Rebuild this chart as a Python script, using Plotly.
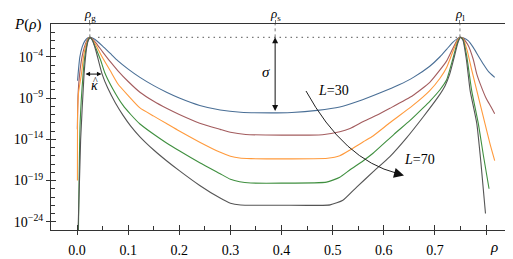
import numpy as np
import plotly.graph_objects as go

# ---------------- data (log10 P values) ----------------
rho_L30 = [0.001, 0.002, 0.0053, 0.01, 0.015, 0.02, 0.025, 0.032, 0.04, 0.05, 0.065, 0.08, 0.10, 0.123,
           0.15, 0.175, 0.20, 0.24, 0.28, 0.32, 0.38, 0.42, 0.47, 0.514, 0.55, 0.592, 0.63, 0.658, 0.69,
           0.71, 0.723, 0.735, 0.744, 0.749, 0.755, 0.765, 0.775, 0.785, 0.795, 0.805, 0.817]
lgP_L30 = [-6.9, -6.1, -4.07, -2.8, -2.1, -1.75, -1.65, -1.8, -2.15, -2.7, -3.6, -4.5, -5.5, -6.5,
           -7.5, -8.3, -9.0, -9.9, -10.45, -10.73, -10.8, -10.75, -10.5, -10.1, -9.4, -8.4, -7.4, -6.5, -5.15,
           -4.0, -3.1, -2.25, -1.8, -1.65, -1.7, -2.05, -2.86, -3.9, -4.9, -5.8, -6.5]

rho_L40 = [0.0005, 0.002, 0.005, 0.0095, 0.014, 0.019, 0.022, 0.025, 0.03, 0.038, 0.05, 0.065, 0.08, 0.10,
           0.123, 0.15, 0.175, 0.20, 0.24, 0.28, 0.30, 0.33, 0.40, 0.48, 0.514, 0.534, 0.56, 0.592, 0.612,
           0.657, 0.69, 0.71, 0.723, 0.735, 0.744, 0.749, 0.755, 0.765, 0.775, 0.782, 0.79, 0.80, 0.81, 0.817]
lgP_L40 = [-12.8, -8.5, -6.1, -4.07, -2.9, -2.05, -1.75, -1.65, -1.85, -2.4, -3.4, -4.6, -5.7, -7.0,
           -8.3, -9.4, -10.25, -11.0, -12.05, -12.8, -13.15, -13.42, -13.5, -13.45, -13.1, -12.7, -11.85, -10.9, -10.25,
           -8.7, -7.1, -5.6, -4.5, -3.0, -1.95, -1.65, -1.75, -2.6, -4.3, -6.1, -7.5, -9.0, -10.1, -10.9]

rho_L50 = [0.0007, 0.0012, 0.003, 0.0085, 0.0125, 0.016, 0.02, 0.023, 0.025, 0.03, 0.037, 0.048, 0.065, 0.08,
           0.10, 0.123, 0.15, 0.175, 0.20, 0.24, 0.279, 0.30, 0.318, 0.34, 0.40, 0.49, 0.514, 0.534, 0.56, 0.579,
           0.612, 0.657, 0.69, 0.71, 0.723, 0.735, 0.744, 0.749, 0.755, 0.763, 0.772, 0.782, 0.79, 0.798,
           0.808, 0.817]
lgP_L50 = [-19.0, -10.6, -8.3, -6.1, -4.07, -2.9, -2.1, -1.75, -1.65, -1.9, -2.6, -3.9, -5.7, -7.3,
           -8.7, -10.2, -11.2, -12.1, -13.0, -14.35, -15.55, -16.05, -16.28, -16.35, -16.38, -16.3, -16.0, -15.3, -14.3, -13.6,
           -12.0, -9.9, -8.1, -6.6, -5.3, -3.4, -2.05, -1.65, -1.8, -3.2, -5.6, -8.1, -10.1, -12.1,
           -14.6, -16.6]

rho_L60 = [0.0025, 0.006, 0.0118, 0.015, 0.018, 0.021, 0.024, 0.0255, 0.03, 0.037, 0.046, 0.054, 0.07, 0.09,
           0.105, 0.123, 0.15, 0.175, 0.20, 0.24, 0.279, 0.30, 0.318, 0.34, 0.40, 0.488, 0.514, 0.534, 0.56, 0.579,
           0.62, 0.651, 0.677, 0.69, 0.71, 0.723, 0.735, 0.744, 0.75, 0.755, 0.762, 0.772, 0.785, 0.795, 0.806]
lgP_L60 = [-26.0, -12.0, -6.1, -4.07, -2.9, -2.1, -1.72, -1.65, -2.0, -3.0, -4.4, -5.9, -7.9, -9.9,
           -11.0, -12.15, -13.4, -14.45, -15.4, -16.85, -18.15, -18.85, -19.15, -19.3, -19.32, -19.2, -18.6, -17.7, -16.6, -15.7,
           -13.4, -11.75, -10.2, -9.4, -8.0, -6.8, -4.3, -2.3, -1.65, -1.9, -3.8, -8.1, -12.1, -16.0, -20.0]

rho_L70 = [0.0015, 0.007, 0.0137, 0.0165, 0.019, 0.022, 0.025, 0.026, 0.03, 0.037, 0.049, 0.06, 0.075, 0.09,
           0.105, 0.123, 0.15, 0.175, 0.20, 0.24, 0.279, 0.30, 0.32, 0.35, 0.40, 0.495, 0.52, 0.547, 0.58, 0.612,
           0.645, 0.677, 0.706, 0.72, 0.729, 0.738, 0.745, 0.75, 0.755, 0.762, 0.769, 0.782, 0.79, 0.799]
lgP_L70 = [-26.0, -14.0, -6.1, -4.07, -2.8, -2.0, -1.7, -1.65, -2.0, -3.3, -6.1, -7.8, -9.6, -11.1,
           -12.4, -13.7, -15.3, -16.6, -17.8, -19.6, -21.1, -21.75, -21.97, -22.0, -22.0, -21.95, -21.4, -19.8, -17.9, -16.1,
           -13.8, -11.3, -8.9, -7.5, -6.1, -4.0, -2.3, -1.65, -2.0, -4.5, -8.1, -12.1, -16.8, -23.0]

series_names = ["L=30", "L=40", "L=50", "L=60", "L=70"]
series_rho = [rho_L30, rho_L40, rho_L50, rho_L60, rho_L70]
series_lgP = [lgP_L30, lgP_L40, lgP_L50, lgP_L60, lgP_L70]
series_colors = ["#4a6f96", "#a35c5e", "#ff9a3c", "#3f8f3f", "#555555"]

rho_marks = [0.025, 0.3875, 0.749]
rho_mark_text = ["<i>ρ</i><sub>g</sub>", "<i>ρ</i><sub>s</sub>", "<i>ρ</i><sub>l</sub>"]
peak_lg = -1.65
sigma_bottom_lg = -10.75
dotted_from = 0.041

x_ticks = [0.0, 0.1, 0.2, 0.3, 0.4, 0.5, 0.6, 0.7, 0.8]
x_ticktext = ["0.0", "0.1", "0.2", "0.3", "0.4", "0.5", "0.6", "0.7", ""]
x_minor = [0.05, 0.15, 0.25, 0.35, 0.45, 0.55, 0.65, 0.75]
y_major_exp = [-4, -9, -14, -19, -24]
y_minor_exp = [e for e in range(-25, 1) if e not in y_major_exp]

X_RANGE = [-0.051, 0.845]
Y_RANGE = [-25.0, -0.03]

# ---------------- figure ----------------
# the page body has an 8px margin, so the figure is made 8px smaller and everything is offset
OFF = 8
W, H = 513 - OFF, 259 - OFF
ML, MR, MT, MB = 51 - OFF, 4, 24 - OFF, 29
FONT = "Liberation Serif"
FRAME = "#333333"

fig = go.Figure()
for name, r, lg, c in zip(series_names, series_rho, series_lgP, series_colors):
    fig.add_trace(go.Scatter(x=r, y=10.0 ** np.array(lg), mode="lines", name=name,
                             line=dict(color=c, width=1.1, shape="spline", smoothing=0.5),
                             showlegend=False, hoverinfo="skip"))

# dashed vertical guides from the top to the peak level
for xm in rho_marks:
    fig.add_trace(go.Scatter(x=[xm, xm], y=[10 ** peak_lg, 10 ** Y_RANGE[1]], mode="lines",
                             line=dict(color="#777777", width=1, dash="3px,3px"),
                             showlegend=False, hoverinfo="skip"))
# dotted horizontal line at peak height
fig.add_trace(go.Scatter(x=[dotted_from, rho_marks[2]], y=[10 ** peak_lg, 10 ** peak_lg], mode="lines",
                         line=dict(color="#777777", width=1.2, dash="1.5px,4px"),
                         showlegend=False, hoverinfo="skip"))

def px2paper(px, py):
    """page pixel position (as in the reference) -> paper fraction"""
    return (px - OFF - ML) / (W - ML - MR), (H - MB - (py - OFF)) / (H - MT - MB)

# curved arrow L=30 -> L=70
s = px2paper(306, 91)
c = px2paper(344, 160)
e = px2paper(397, 173.3)
fig.add_shape(type="path", xref="paper", yref="paper",
              path=f"M {s[0]},{s[1]} Q {c[0]},{c[1]} {e[0]},{e[1]}",
              line=dict(color="#222222", width=1))
tip = px2paper(404, 175.5)

def ptext(px, py, text, size=14):
    x, y = px2paper(px, py)
    return dict(x=x, y=y, xref="paper", yref="paper", text=text, showarrow=False,
                xanchor="center", yanchor="middle", font=dict(family=FONT, size=size, color="black"))

annotations = [
    # sigma arrow
    dict(x=rho_marks[1], y=peak_lg, ax=rho_marks[1], ay=sigma_bottom_lg, xref="x", yref="y",
         axref="x", ayref="y", showarrow=True, arrowside="end+start", arrowhead=2, arrowsize=1.2,
         arrowwidth=1, arrowcolor="#111111", text=""),
    dict(x=0.3687, y=-5.8, xref="x", yref="y", text="<i>σ</i>", showarrow=False,
         xanchor="center", yanchor="middle", font=dict(family=FONT, size=15, color="black")),
    # kappa arrow
    dict(x=0.0477, y=-6.1, ax=0.0137, ay=-6.1, xref="x", yref="y", axref="x", ayref="y",
         showarrow=True, arrowside="end+start", arrowhead=2, arrowsize=0.9, arrowwidth=1,
         arrowcolor="#111111", text=""),
    dict(x=0.0345, y=-7.5, xref="x", yref="y", text="<i>κ</i>", showarrow=False,
         xanchor="center", yanchor="middle", font=dict(family=FONT, size=14, color="black")),
    dict(x=0.0362, y=-6.85, xref="x", yref="y", text="^", showarrow=False,
         xanchor="center", yanchor="middle", font=dict(family=FONT, size=10, color="black")),
    # L labels
    ptext(333, 90, "<i>L</i>=30"),
    ptext(419.5, 160, "<i>L</i>=70"),
    # arrow head of curved arrow
    dict(x=tip[0], y=tip[1], xref="paper", yref="paper", ax=-11, ay=-3, showarrow=True,
         arrowhead=2, arrowsize=2.0, arrowwidth=1, arrowcolor="#111111", text="", standoff=0),
    # axis labels
    ptext(27.5, 24, "<i>P</i>(<i>ρ</i>)", 15),
    ptext(494, 247, "<i>ρ</i>", 15),
]
# labels of the three special densities above the frame
for xm, t in zip(rho_marks, rho_mark_text):
    annotations.append(dict(x=xm, y=px2paper(0, 14)[1], xref="x", yref="paper", text=t,
                            showarrow=False, xanchor="center", yanchor="middle",
                            font=dict(family=FONT, size=13, color="black")))

ytickvals = [10.0 ** e for e in y_major_exp]
yticktext = [f"10<sup>\u2212{-e}</sup>" for e in y_major_exp]

fig.update_layout(
    width=W, height=H, margin=dict(l=ML, r=MR, t=MT, b=MB, autoexpand=False),
    paper_bgcolor="white", plot_bgcolor="white",
    font=dict(family=FONT, size=14, color="black"),
    annotations=annotations,
    xaxis=dict(range=X_RANGE, tickvals=x_ticks, ticktext=x_ticktext, ticks="outside", ticklen=4,
               tickwidth=1, tickcolor=FRAME, showline=True, linecolor=FRAME, linewidth=1, mirror=True,
               showgrid=False, zeroline=False, automargin=False, ticklabelstandoff=3,
               minor=dict(tickvals=x_minor, ticks="inside", ticklen=4, tickwidth=1, tickcolor=FRAME,
                          showgrid=False),
               tickfont=dict(family=FONT, size=14)),
    xaxis2=dict(range=X_RANGE, overlaying="x", side="top", tickvals=rho_marks,
                ticks="outside", ticklen=3, tickwidth=1, tickcolor="#777777", showline=False,
                showticklabels=False, showgrid=False, zeroline=False, automargin=False),
    xaxis3=dict(range=X_RANGE, overlaying="x", side="bottom", tickvals=x_ticks, ticks="inside",
                ticklen=5, tickwidth=1, tickcolor=FRAME, showticklabels=False, showline=False,
                showgrid=False, zeroline=False, automargin=False),
    yaxis=dict(type="log", range=Y_RANGE, tickvals=ytickvals, ticktext=yticktext, ticks="outside",
               ticklen=4, tickwidth=1, tickcolor=FRAME, showline=True, linecolor=FRAME, linewidth=1,
               mirror=True, showgrid=False, zeroline=False, automargin=False,
               minor=dict(tickvals=[10.0 ** e for e in y_minor_exp], ticks="inside", ticklen=4,
                          tickwidth=1, tickcolor=FRAME, showgrid=False),
               tickfont=dict(family=FONT, size=14)),
    yaxis2=dict(type="log", range=Y_RANGE, overlaying="y", side="left", tickvals=ytickvals,
                ticks="inside", ticklen=5, tickwidth=1, tickcolor=FRAME, showticklabels=False,
                showline=False, showgrid=False, zeroline=False, automargin=False),
)
# dummy traces to make overlay axes render
fig.add_trace(go.Scatter(x=[None], y=[None], xaxis="x2", yaxis="y", showlegend=False, hoverinfo="skip"))
fig.add_trace(go.Scatter(x=[None], y=[None], xaxis="x3", yaxis="y2", showlegend=False, hoverinfo="skip"))

fig.write_html("out.html")
